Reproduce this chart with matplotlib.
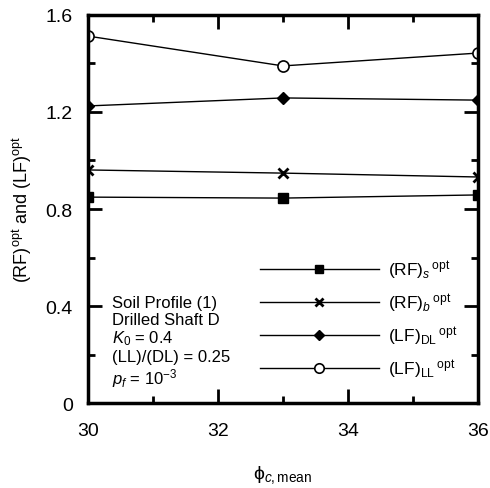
import matplotlib
matplotlib.use("Agg")
import matplotlib.pyplot as plt
from matplotlib.ticker import MultipleLocator

plt.rcParams['font.family'] = ['Liberation Sans', 'DejaVu Sans']
plt.rcParams['mathtext.fontset'] = 'custom'
plt.rcParams['mathtext.rm'] = 'Liberation Sans'
plt.rcParams['mathtext.it'] = 'Liberation Sans:italic'
plt.rcParams['mathtext.bf'] = 'Liberation Sans:bold'

phi = [30, 33, 36]
rf_s = [0.849, 0.845, 0.858]
rf_b = [0.961, 0.948, 0.932]
lf_dl = [1.225, 1.258, 1.249]
lf_ll = [1.513, 1.390, 1.443]

labels = [r'$\mathrm{(RF)}_{s}\,{}^{\mathrm{opt}}$',
          r'$\mathrm{(RF)}_{b}\,{}^{\mathrm{opt}}$',
          r'$\mathrm{(LF)}_{\mathrm{DL}}\,{}^{\mathrm{opt}}$',
          r'$\mathrm{(LF)}_{\mathrm{LL}}\,{}^{\mathrm{opt}}$']

fig = plt.figure(figsize=(4.9, 4.89), dpi=100)
ax = fig.add_axes([0.1796, 0.1738, 0.7959, 0.7935])

ax.plot(phi, rf_s, color='black', lw=1, marker='s', ms=7.5, mfc='black', label=labels[0])
ax.plot(phi, rf_b, color='black', lw=1, marker='x', ms=7, mew=2, label=labels[1])
ax.plot(phi, lf_dl, color='black', lw=1, marker='D', ms=6.5, mfc='black', label=labels[2])
ax.plot(phi, lf_ll, color='black', lw=1, marker='o', ms=8, mfc='white', mew=1.2, label=labels[3])

ax.set_xlim(30, 36)
ax.set_ylim(0, 1.6)
ax.xaxis.set_major_locator(MultipleLocator(2))
ax.xaxis.set_minor_locator(MultipleLocator(1))
ax.yaxis.set_minor_locator(MultipleLocator(0.2))
ax.set_yticks([0, 0.4, 0.8, 1.2, 1.6])
ax.set_yticklabels(['0', '0.4', '0.8', '1.2', '1.6'])
ax.tick_params(which='both', direction='in', top=True, right=True, width=2)
ax.tick_params(which='major', length=10, labelsize=14)
ax.tick_params(axis='x', which='major', pad=14)
ax.tick_params(axis='y', which='major', pad=11)
ax.tick_params(which='minor', length=5)
for s in ax.spines.values():
    s.set_linewidth(2.5)

ax.set_xlabel(r'$\mathrm{\phi}_{c,\mathrm{mean}}$', fontsize=14, labelpad=17)
ax.set_ylabel(r'$\mathrm{(RF)}^{\mathrm{opt}}$ and $\mathrm{(LF)}^{\mathrm{opt}}$', fontsize=13, labelpad=8)

ax.legend(loc='lower left', bbox_to_anchor=(0.441, 0.060), frameon=False,
          handlelength=6.85, handletextpad=0.5, labelspacing=0.6, fontsize=12.5,
          markerscale=0.85, borderpad=0, borderaxespad=0)

ax.text(0.062, 0.037, 'Soil Profile (1)\nDrilled Shaft D\n$K_0$ = 0.4\n(LL)/(DL) = 0.25\n$p_f$ = 10$^{-3}$',
        transform=ax.transAxes, fontsize=12, va='bottom', ha='left', linespacing=1.12)

fig.savefig('out.png', dpi=100)
